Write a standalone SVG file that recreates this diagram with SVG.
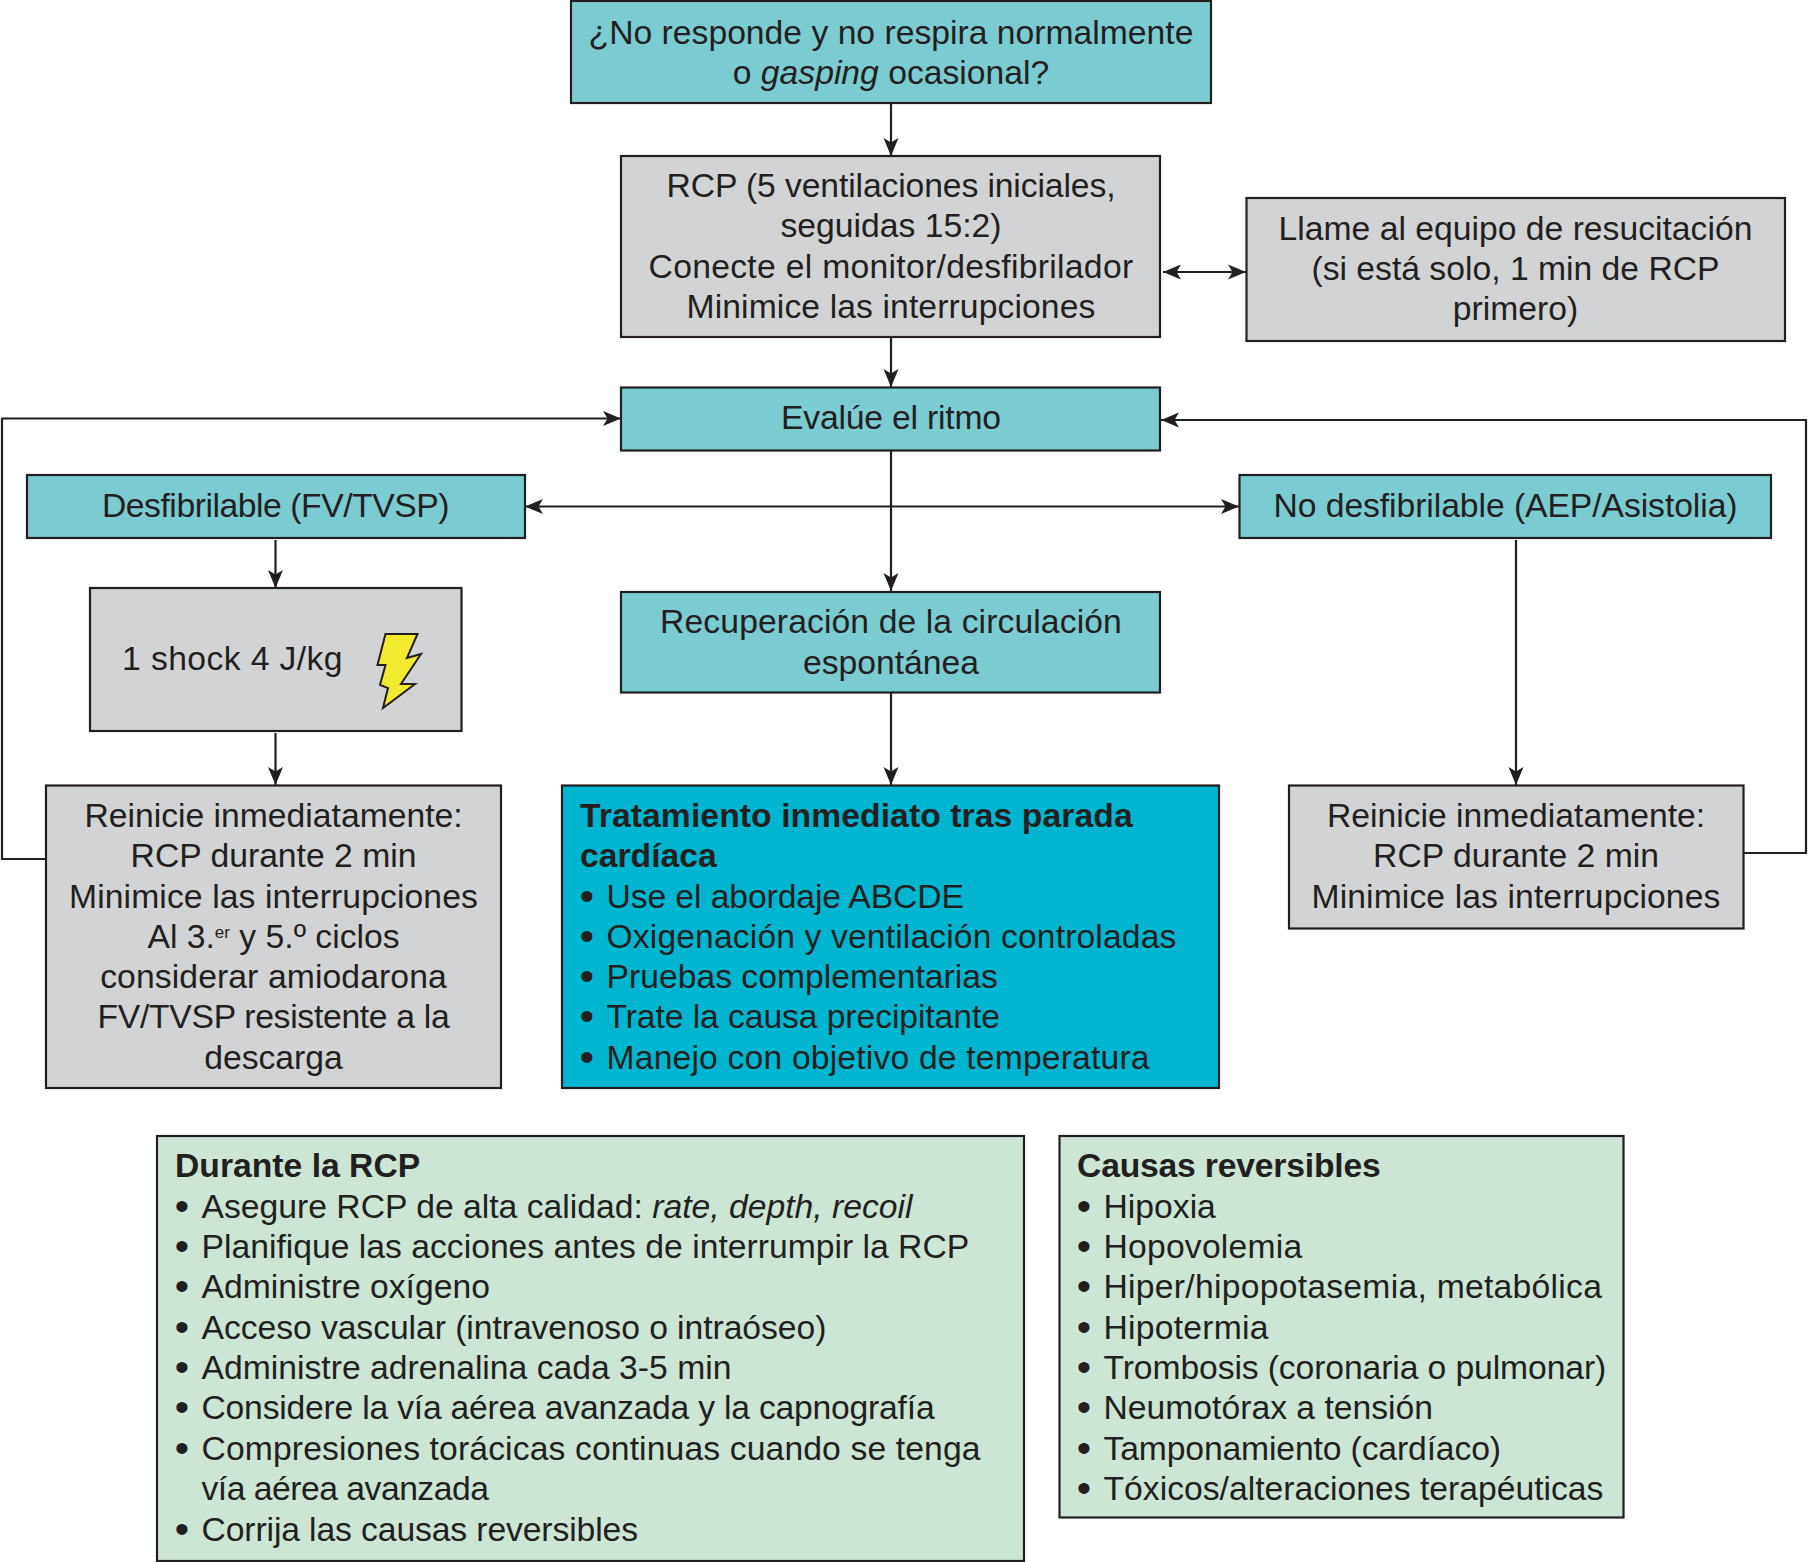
<svg xmlns="http://www.w3.org/2000/svg" width="1808" height="1562" viewBox="0 0 1808 1562">
<style>
text{font-family:"Liberation Sans",Arial,sans-serif;font-size:33.7px;fill:#231f20}
.c{text-anchor:middle}
.b{font-weight:700}
.i{font-style:italic}
.sup{font-size:17px}
.bu{stroke:#231f20;stroke-width:2}
rect{stroke:#231f20;stroke-width:2.200}
.teal{fill:#7accd0}
.gray{fill:#d1d3d4}
.blue{fill:#00b5d0}
.green{fill:#cce5d5}
.line{fill:none;stroke:#231f20;stroke-width:2.200}
</style>
<defs>
<marker id="a" markerUnits="userSpaceOnUse" markerWidth="20" markerHeight="18" refX="18" refY="8" orient="auto-start-reverse" viewBox="0 0 20 18"><path d="M0,0.500 L18,8 L0,15.500 L4.500,8 z" fill="#231f20"/></marker>
</defs>
<g id="connectors">
<path class="line" marker-end="url(#a)" d="M891,103V156"/>
<path class="line" marker-end="url(#a)" d="M891,337V387"/>
<path class="line" marker-end="url(#a)" d="M891,450V591"/>
<path class="line" marker-end="url(#a)" d="M891,692V785"/>
<path class="line" marker-start="url(#a)" marker-end="url(#a)" d="M1163,272H1246"/>
<path class="line" marker-start="url(#a)" marker-end="url(#a)" d="M525,506.500H1239"/>
<path class="line" marker-end="url(#a)" d="M46,859H2V418.500H621"/>
<path class="line" marker-end="url(#a)" d="M1743,853H1806V420H1161"/>
<path class="line" marker-end="url(#a)" d="M275.500,540V588"/>
<path class="line" marker-end="url(#a)" d="M275.500,733V785"/>
<path class="line" marker-end="url(#a)" d="M1516,540V785"/>
</g>
<g id="n1"><rect class="teal" x="571" y="1" width="640" height="102"/>
<text class="c" x="891" y="43.500">¿No responde y no respira normalmente</text>
<text class="c" x="891" y="84">o <tspan class="i">gasping</tspan> ocasional?</text></g>
<g id="n2"><rect class="gray" x="621" y="156" width="539" height="181"/>
<text class="c" x="891" y="197" letter-spacing="-.12">RCP (5 ventilaciones iniciales,</text>
<text class="c" x="891" y="237">seguidas 15:2)</text>
<text class="c" x="891" y="278" letter-spacing=".29">Conecte el monitor/desfibrilador</text>
<text class="c" x="891" y="318" letter-spacing=".1">Minimice las interrupciones</text></g>
<g id="n3"><rect class="gray" x="1246.500" y="198" width="538.500" height="143"/>
<text class="c" x="1515.500" y="240">Llame al equipo de resucitación</text>
<text class="c" x="1515.500" y="280">(si está solo, 1 min de RCP</text>
<text class="c" x="1515.500" y="320">primero)</text></g>
<g id="n4"><rect class="teal" x="621" y="387.500" width="539" height="63"/>
<text class="c" x="891" y="429" letter-spacing="-.2">Evalúe el ritmo</text></g>
<g id="n5"><rect class="teal" x="27" y="475" width="498" height="63"/>
<text class="c" x="275.500" y="517" letter-spacing="-.45">Desfibrilable (FV/TVSP)</text></g>
<g id="n6"><rect class="teal" x="1239.500" y="475" width="531.500" height="63"/>
<text class="c" x="1505.500" y="517" letter-spacing="-.07">No desfibrilable (AEP/Asistolia)</text></g>
<g id="n7"><rect class="gray" x="90" y="588" width="371.500" height="143"/>
<text x="122" y="670" letter-spacing=".4">1 shock 4 J/kg</text>
<path d="M385.500,634H417.500L407,658L421,654L401,684L415,684L383,708L388,688L380,685L385.500,665L377.500,665z" fill="#f2ea2e" stroke="#231f20" stroke-width="2"/></g>
<g id="n8"><rect class="teal" x="621" y="592" width="539" height="100.500"/>
<text class="c" x="891" y="633" letter-spacing=".1">Recuperación de la circulación</text>
<text class="c" x="891" y="674">espontánea</text></g>
<g id="n9"><rect class="gray" x="46" y="785.500" width="455" height="302.500"/>
<text class="c" x="273.500" y="827">Reinicie inmediatamente:</text>
<text class="c" x="273.500" y="867">RCP durante 2 min</text>
<text class="c" x="273.500" y="908" letter-spacing=".1">Minimice las interrupciones</text>
<text class="c" x="273.500" y="948">Al 3.<tspan class="sup" dy="-10">er</tspan><tspan dy="10"> y 5.º ciclos</tspan></text>
<text class="c" x="273.500" y="988" letter-spacing=".1">considerar amiodarona</text>
<text class="c" x="273.500" y="1028" letter-spacing="-.3">FV/TVSP resistente a la</text>
<text class="c" x="273.500" y="1069">descarga</text></g>
<g id="n10"><rect class="blue" x="562" y="785.500" width="657" height="302.500"/>
<text class="b" x="580" y="827" letter-spacing=".07">Tratamiento inmediato tras parada</text>
<text class="b" x="580" y="867">cardíaca</text>
<text y="908" letter-spacing="-.1"><tspan class="bu" x="581">•</tspan><tspan x="606.500">Use el abordaje ABCDE</tspan></text>
<text y="948" letter-spacing=".12"><tspan class="bu" x="581">•</tspan><tspan x="606.500">Oxigenación y ventilación controladas</tspan></text>
<text y="988"><tspan class="bu" x="581">•</tspan><tspan x="606.500">Pruebas complementarias</tspan></text>
<text y="1028" letter-spacing="-.09"><tspan class="bu" x="581">•</tspan><tspan x="606.500">Trate la causa precipitante</tspan></text>
<text y="1069" letter-spacing=".17"><tspan class="bu" x="581">•</tspan><tspan x="606.500">Manejo con objetivo de temperatura</tspan></text></g>
<g id="n11"><rect class="gray" x="1289" y="785.500" width="454.500" height="143"/>
<text class="c" x="1516" y="827">Reinicie inmediatamente:</text>
<text class="c" x="1516" y="867">RCP durante 2 min</text>
<text class="c" x="1516" y="908" letter-spacing=".1">Minimice las interrupciones</text></g>
<g id="n12"><rect class="green" x="157" y="1136" width="867" height="425"/>
<text class="b" x="175" y="1177">Durante la RCP</text>
<text y="1218"><tspan class="bu" x="176">•</tspan><tspan x="201.500">Asegure RCP de alta calidad: </tspan><tspan class="i">rate, depth, recoil</tspan></text>
<text y="1258"><tspan class="bu" x="176">•</tspan><tspan x="201.500">Planifique las acciones antes de interrumpir la RCP</tspan></text>
<text y="1298"><tspan class="bu" x="176">•</tspan><tspan x="201.500">Administre oxígeno</tspan></text>
<text y="1339" letter-spacing="-.06"><tspan class="bu" x="176">•</tspan><tspan x="201.500">Acceso vascular (intravenoso o intraóseo)</tspan></text>
<text y="1379"><tspan class="bu" x="176">•</tspan><tspan x="201.500">Administre adrenalina cada 3-5 min</tspan></text>
<text y="1419" letter-spacing="-.22"><tspan class="bu" x="176">•</tspan><tspan x="201.500">Considere la vía aérea avanzada y la capnografía</tspan></text>
<text y="1460" letter-spacing=".12"><tspan class="bu" x="176">•</tspan><tspan x="201.500">Compresiones torácicas continuas cuando se tenga</tspan></text>
<text x="201.500" y="1500" letter-spacing="-.5">vía aérea avanzada</text>
<text y="1541" letter-spacing="-.12"><tspan class="bu" x="176">•</tspan><tspan x="201.500">Corrija las causas reversibles</tspan></text></g>
<g id="n13"><rect class="green" x="1059.500" y="1136" width="564" height="381.500"/>
<text class="b" x="1077" y="1177" letter-spacing="-.2">Causas reversibles</text>
<text y="1218"><tspan class="bu" x="1078">•</tspan><tspan x="1103.500">Hipoxia</tspan></text>
<text y="1258" letter-spacing=".2"><tspan class="bu" x="1078">•</tspan><tspan x="1103.500">Hopovolemia</tspan></text>
<text y="1298" letter-spacing=".26"><tspan class="bu" x="1078">•</tspan><tspan x="1103.500">Hiper/hipopotasemia, metabólica</tspan></text>
<text y="1339" letter-spacing=".23"><tspan class="bu" x="1078">•</tspan><tspan x="1103.500">Hipotermia</tspan></text>
<text y="1379" letter-spacing="-.11"><tspan class="bu" x="1078">•</tspan><tspan x="1103.500">Trombosis (coronaria o pulmonar)</tspan></text>
<text y="1419"><tspan class="bu" x="1078">•</tspan><tspan x="1103.500">Neumotórax a tensión</tspan></text>
<text y="1460" letter-spacing="-.14"><tspan class="bu" x="1078">•</tspan><tspan x="1103.500">Tamponamiento (cardíaco)</tspan></text>
<text y="1500"><tspan class="bu" x="1078">•</tspan><tspan x="1103.500">Tóxicos/alteraciones terapéuticas</tspan></text></g>
</svg>
